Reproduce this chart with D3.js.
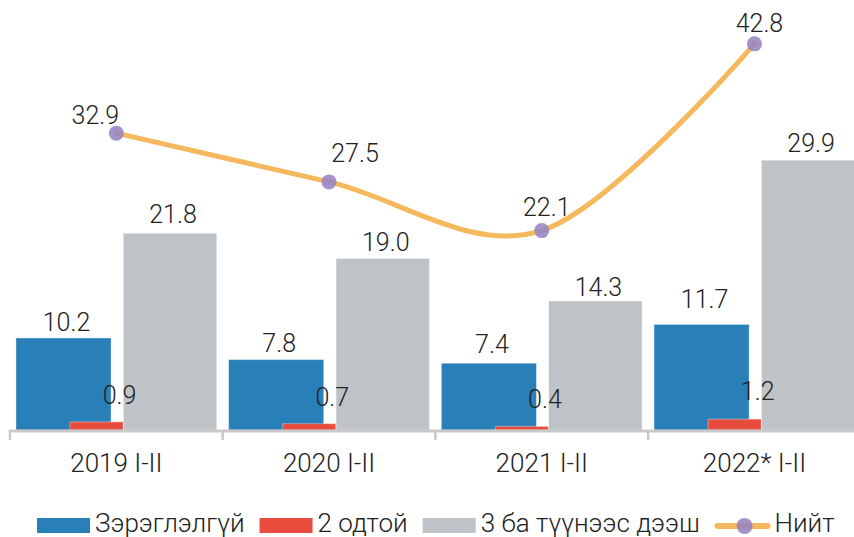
<!DOCTYPE html>
<html>
<head>
<meta charset="utf-8">
<script src="https://cdn.jsdelivr.net/npm/d3@7"></script>
<style>
  html, body { margin: 0; padding: 0; background: #fff; }
  svg { display: block; font-family: Roboto, "Noto Sans", sans-serif; }
</style>
</head>
<body>
<svg id="chart" width="854" height="537"></svg>
<script>
// ---- data ----
const categories = ["2019 I-II", "2020 I-II", "2021 I-II", "2022* I-II"];
const seriesNames = ["Зэрэглэлгүй", "2 одтой", "3 ба түүнээс дээш", "Нийт"];
const unrated = [10.2, 7.8, 7.4, 11.7];
const twoStar = [0.9, 0.7, 0.4, 1.2];
const threePlus = [21.8, 19.0, 14.3, 29.9];
const total = [32.9, 27.5, 22.1, 42.8];

// ---- layout / style ----
const W = 854, H = 537;
const colors = ["#2980B9", "#E74C3C", "#BDC3C7", "#F5B85C"];
const markerColor = "#9A86C2";
const svg = d3.select("#chart");

const x = d3.scaleBand().domain(categories).range([10, 860.8]).padding(0);
const y = d3.scaleLinear().domain([0, 47.66]).range([430, 0]);
const bw = x.bandwidth();

// bar placement within each category band (fraction of band)
const barLayout = [
  { values: unrated,   color: colors[0], off: 0.028, w: 0.447, lblDx: 3,  lblGap: [7, 8, 10, 16] },
  { values: twoStar,   color: colors[1], off: 0.282, w: 0.250, lblDx: 23, lblGap: [18, 18, 18, 19] },
  { values: threePlus, color: colors[2], off: 0.533, w: 0.439, lblDx: 3,  lblGap: [10, 8, 5, 8] }
];
const lineLblDx = [-21, 26, 5, 5];
const lineLblDy = [-9, -20, -15, -12];
const fmt = d3.format(".1f");

// bars
barLayout.forEach((s, si) => {
  svg.append("g").selectAll("rect")
    .data(s.values)
    .join("rect")
    .attr("x", (d, i) => x(categories[i]) + s.off * bw)
    .attr("width", s.w * bw)
    .attr("y", d => y(d))
    .attr("height", d => y(0) - y(d))
    .attr("fill", s.color)
    .attr("stroke", "#ffffff")
    .attr("stroke-opacity", 0.35)
    .attr("stroke-width", 1);
});

// axis line + boundary ticks
const axisG = svg.append("g").attr("transform", `translate(0,${y(0)})`);
const xAxis = d3.axisBottom(x).tickSize(0).tickPadding(24);
axisG.call(xAxis);
axisG.select(".domain").remove();
axisG.selectAll(".tick text")
  .attr("font-size", 26)
  .attr("font-weight", 300)
  .attr("fill", "#222")
  .attr("font-family", "Roboto, sans-serif");
svg.append("line")
  .attr("x1", x.range()[0]).attr("x2", x.range()[1])
  .attr("y1", y(0) + 1).attr("y2", y(0) + 1)
  .attr("stroke", "#C9C9C9").attr("stroke-width", 3);
const bounds = categories.map(c => x(c)).concat([x.range()[1]]);
svg.append("g").selectAll("line")
  .data(bounds)
  .join("line")
  .attr("x1", d => d).attr("x2", d => d)
  .attr("y1", y(0)).attr("y2", y(0) + 10)
  .attr("stroke", "#C9C9C9").attr("stroke-width", 2.5);

// bar labels
barLayout.forEach((s, si) => {
  svg.append("g").selectAll("text")
    .data(s.values)
    .join("text")
    .attr("x", (d, i) => x(categories[i]) + (s.off + s.w / 2) * bw + s.lblDx)
    .attr("y", (d, i) => y(d) - s.lblGap[i])
    .attr("text-anchor", "middle")
    .attr("font-size", 25)
    .attr("font-weight", 300)
    .attr("fill", "#222")
    .text(d => fmt(d));
});

// total line
const cx = (d, i) => x(categories[i]) + bw / 2;
const line = d3.line()
  .x(cx)
  .y(d => y(d))
  .curve(d3.curveCardinal.tension(0));
svg.append("path")
  .datum(total)
  .attr("d", line)
  .attr("fill", "none")
  .attr("stroke", colors[3])
  .attr("stroke-width", 5)
  .attr("stroke-linecap", "round");
svg.append("g").selectAll("circle")
  .data(total)
  .join("circle")
  .attr("cx", cx)
  .attr("cy", d => y(d))
  .attr("r", 7.5)
  .attr("fill", markerColor)
  .attr("fill-opacity", 0.9);
svg.append("g").selectAll("text")
  .data(total)
  .join("text")
  .attr("x", (d, i) => cx(d, i) + lineLblDx[i])
  .attr("y", (d, i) => y(d) + lineLblDy[i])
  .attr("text-anchor", "middle")
  .attr("font-size", 25)
  .attr("font-weight", 300)
  .attr("fill", "#222")
  .text(d => fmt(d));

// legend
const leg = svg.append("g").attr("font-size", 26).attr("font-weight", 300).attr("fill", "#222");
let lx = 37;
const legY = 526;
seriesNames.forEach((name, i) => {
  const g = leg.append("g");
  if (i < 3) {
    g.append("rect").attr("x", lx).attr("y", legY - 8).attr("width", 53).attr("height", 15).attr("fill", colors[i]);
    lx += 53 + 5;
  } else {
    g.append("line").attr("x1", lx + 3).attr("x2", lx + 53).attr("y1", legY).attr("y2", legY)
      .attr("stroke", colors[3]).attr("stroke-width", 6).attr("stroke-linecap", "round");
    g.append("circle").attr("cx", lx + 30).attr("cy", legY).attr("r", 8).attr("fill", markerColor).attr("fill-opacity", 0.9);
    lx += 56 + 4;
  }
  const t = g.append("text").attr("x", lx).attr("y", legY + 6).text(name);
  lx += t.node().getComputedTextLength() + 15;
});
</script>
</body>
</html>
